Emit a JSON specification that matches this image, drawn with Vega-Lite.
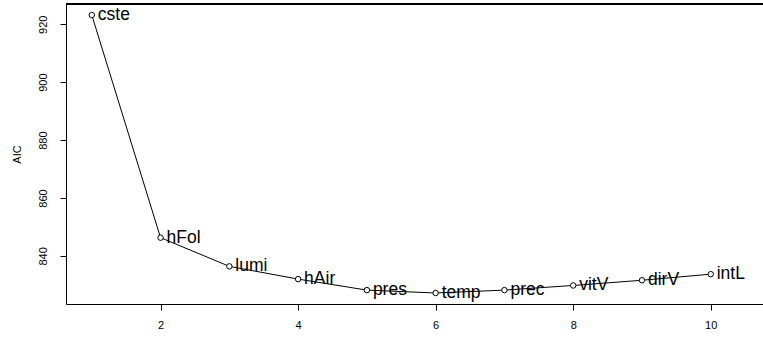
{
  "$schema": "https://vega.github.io/schema/vega-lite/v6.json",
  "autosize": "none",
  "width": 697,
  "height": 300,
  "padding": {"left": 66, "top": 4, "right": 0, "bottom": 33},
  "background": "white",
  "config": {
    "view": {"stroke": null},
    "font": "Liberation Sans",
    "axis": {
      "domainColor": "black",
      "domainWidth": 1,
      "tickColor": "black",
      "tickWidth": 1,
      "tickSize": 6,
      "grid": false,
      "labelFont": "Liberation Sans",
      "labelFontSize": 11,
      "labelColor": "black",
      "titleFont": "Liberation Sans",
      "titleFontSize": 11,
      "titleFontWeight": "normal",
      "titleColor": "black"
    }
  },
  "data": {
    "values": [
      {"k": 1, "AIC": 923.2, "var": "cste"},
      {"k": 2, "AIC": 846.3, "var": "hFol"},
      {"k": 3, "AIC": 836.4, "var": "lumi"},
      {"k": 4, "AIC": 832.0, "var": "hAir"},
      {"k": 5, "AIC": 828.2, "var": "pres"},
      {"k": 6, "AIC": 827.2, "var": "temp"},
      {"k": 7, "AIC": 828.2, "var": "prec"},
      {"k": 8, "AIC": 829.8, "var": "vitV"},
      {"k": 9, "AIC": 831.6, "var": "dirV"},
      {"k": 10, "AIC": 833.7, "var": "intL"}
    ]
  },
  "encoding": {
    "x": {
      "field": "k",
      "type": "quantitative",
      "scale": {"domain": [0.625, 10.76], "nice": false, "zero": false},
      "axis": {
        "orient": "bottom",
        "values": [2, 4, 6, 8, 10],
        "title": null,
        "labelPadding": 9
      }
    },
    "y": {
      "field": "AIC",
      "type": "quantitative",
      "scale": {"domain": [823.4, 927.0], "nice": false, "zero": false},
      "axis": {
        "values": [840, 860, 880, 900, 920],
        "title": "AIC",
        "labelAngle": -90,
        "labelPadding": 12,
        "titlePadding": 15
      }
    }
  },
  "layer": [
    {
      "mark": {"type": "rule", "color": "black", "strokeWidth": 1},
      "encoding": {
        "x": null,
        "y": {"datum": 927.0}
      }
    },
    {
      "mark": {"type": "line", "color": "black", "strokeWidth": 1}
    },
    {
      "mark": {"type": "point", "shape": "circle", "filled": false, "fill": "white", "stroke": "black", "strokeWidth": 1, "size": 30, "opacity": 1}
    },
    {
      "mark": {"type": "text", "align": "left", "baseline": "middle", "dx": 6, "fontSize": 17.5, "font": "Liberation Sans", "color": "black"},
      "encoding": {
        "text": {"field": "var"}
      }
    }
  ]
}
